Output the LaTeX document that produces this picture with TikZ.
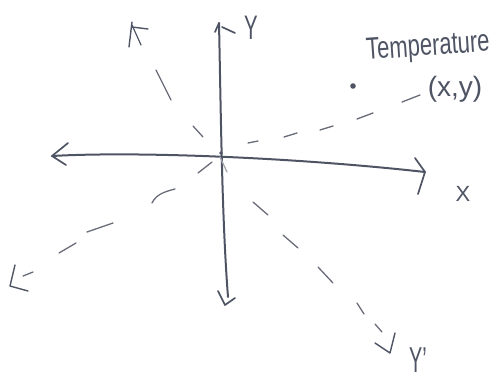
\documentclass[tikz,border=0pt]{standalone}
\usepackage{fontspec}
\setmainfont{Liberation Sans}
\definecolor{pencil}{RGB}{78,84,100}
\definecolor{pencillight}{RGB}{105,108,120}
\begin{document}
\begin{tikzpicture}[x=1pt,y=-1pt,
  axis/.style={pencil,line width=2pt,line cap=round,line join=round},
  tip/.style={pencil,line width=1.7pt,line cap=round,line join=round},
  dsh/.style={pencillight,line width=1.3pt,line cap=round},
  lbl/.style={pencil,inner sep=0pt}]
\useasboundingbox (0,0) rectangle (495,381);
% named points
\coordinate (L) at (52,156);
\coordinate (R) at (425,172);
\coordinate (T) at (219,23);
\coordinate (B) at (228,297);
\coordinate (UL) at (132,22);
\coordinate (LL) at (10,286);
\coordinate (LR) at (390,353);
% x axis
\draw[axis] (L) .. controls (140,151) and (300,158) .. (R);
\draw[tip] (68,143) -- (L) -- (66,165);
\draw[tip] (415,158) -- (R) -- (418,194);
% y axis
\draw[axis] (T) .. controls (221,120) and (222,220) .. (B);
\draw[tip] (215,32) -- (T);
\draw[tip] (222,27) -- (235,33);
\draw[tip] (218,291) -- (225,305) -- (235,298);
% origin mark
\fill[pencil] (221,153) circle (1.8);
% rotated axis arrow heads
\draw[tip,line width=1.4pt] (UL) -- (129,47);
\draw[tip,line width=1.4pt] (132,27) -- (148,29);
\draw[tip,line width=1.2pt] (132,25) -- (141,45);
\draw[tip,line width=1.4pt] (15,265) -- (LL) -- (28,291);
\draw[tip,line width=1.4pt] (395,333) -- (LR) -- (375,343);
% x' dashes, upper right
\draw[dsh] (248,143) -- (258,141);
\draw[dsh] (284,137) -- (297,133);
\draw[dsh] (320,130) -- (333,126);
\draw[dsh] (357,119) -- (373,113);
\draw[dsh] (402,102) -- (420,95);
% x' dashes, lower left
\draw[dsh] (198,173) -- (212,162);
\draw[dsh] (152,203) .. controls (156,195) and (163,192) .. (175,189);
\draw[dsh] (87,232) -- (113,223);
\draw[dsh] (59,253) -- (76,243);
\draw[dsh] (23,276) -- (33,272);
% y' dashes, upper left
\draw[dsh] (193,126) -- (203,137);
\draw[dsh] (156,70) -- (171,100);
% y' dashes, lower right
\draw[dsh,pencillight!60] (220,157) -- (227,172);
\draw[dsh] (253,202) -- (268,215);
\draw[dsh] (283,235) -- (298,248);
\draw[dsh] (318,267) -- (333,283);
\draw[dsh] (357,303) -- (364,314);
\draw[dsh] (375,324) -- (382,332);
% point
\fill[pencil] (353,86) circle (2.8) node (P) {};
% labels
\node[lbl,font=\fontsize{34}{34}\selectfont] (ylab) at (251,28) {\scalebox{0.6}[1]{Y}};
\node[lbl,font=\fontsize{22}{22}\selectfont] (xlab) at (463,194) {X};
\node[lbl,font=\fontsize{36}{36}\selectfont] (yplab) at (418,360) {\scalebox{0.55}[1]{Y'}};
\node[lbl,font=\fontsize{22}{22}\selectfont,rotate=4] (temp) at (428,48) {\scalebox{1}[1.4]{Temperature}};
\node[lbl,font=\fontsize{28}{28}\selectfont] (xy) at (455,89) {(x,y)};
\end{tikzpicture}
\end{document}
